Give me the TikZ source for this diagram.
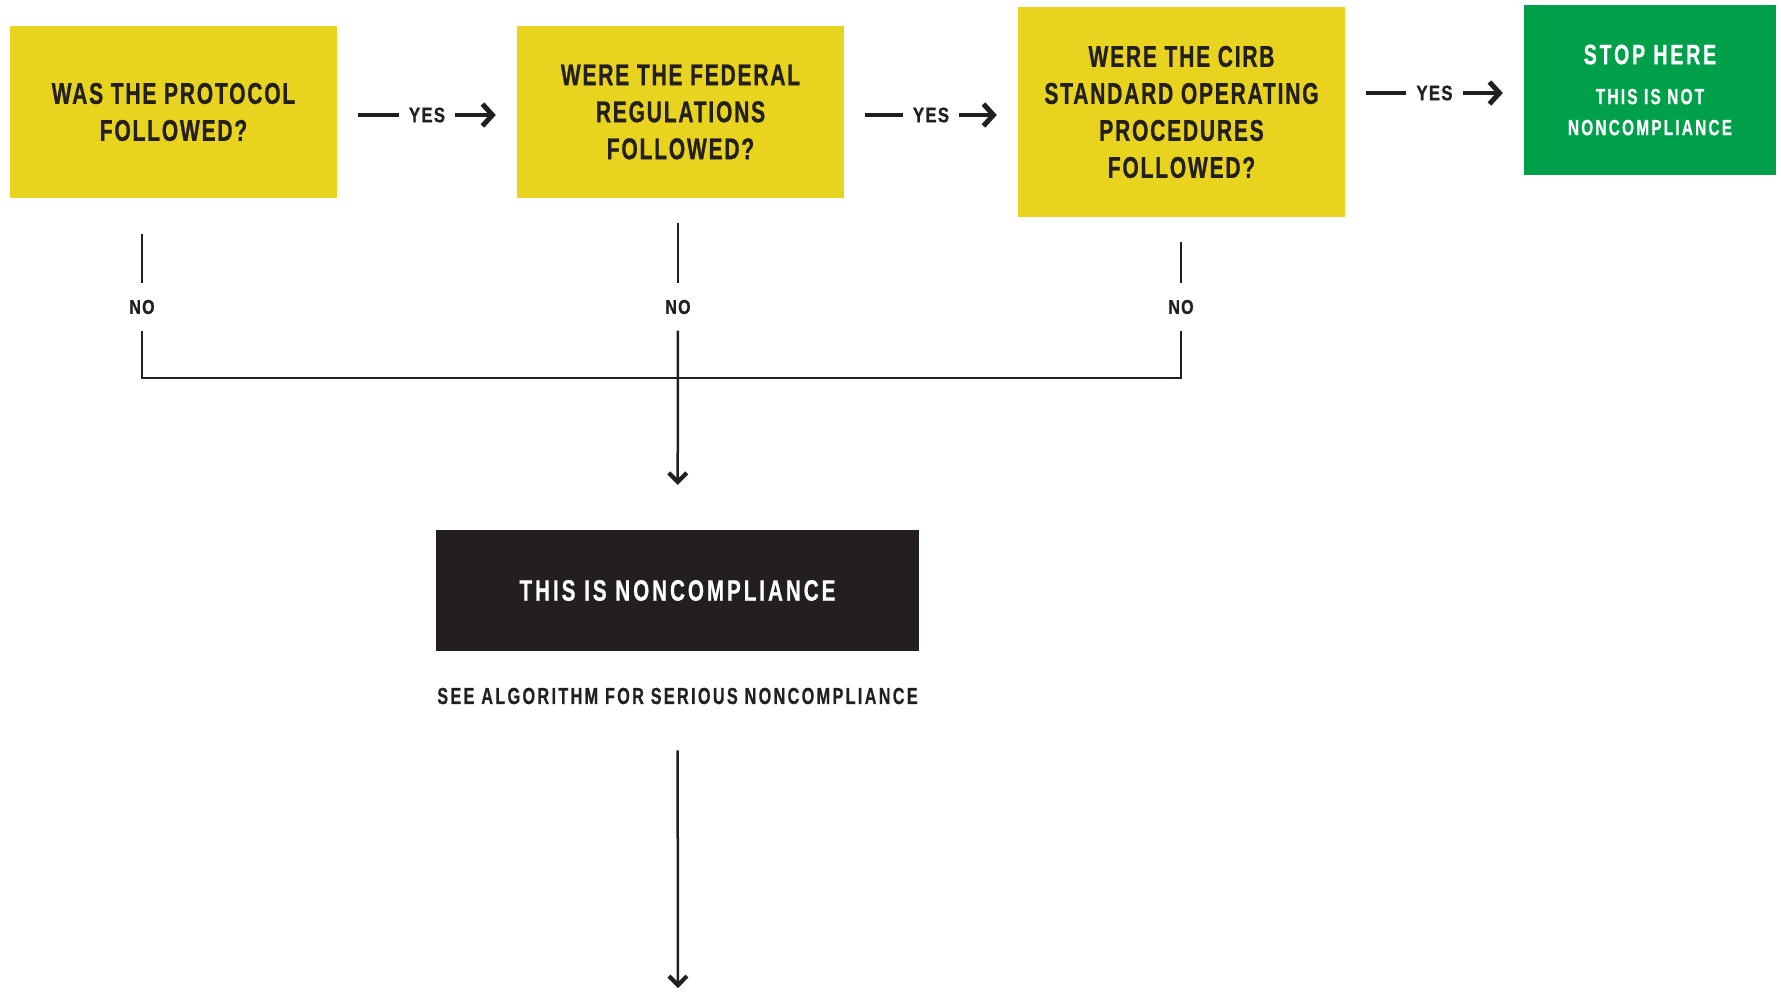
\documentclass[tikz,border=0pt]{standalone}
\usepackage{fontspec}
\usetikzlibrary{arrows.meta}
\newfontfamily\condbox[FakeStretch=0.7,LetterSpace=6,FakeBold=0.8]{Liberation Sans}
\newfontfamily\condwide[FakeStretch=0.7,LetterSpace=10,FakeBold=0.6]{Liberation Sans}
\newfontfamily\condlbl[FakeStretch=0.8,LetterSpace=6,FakeBold=0.8]{Liberation Sans}
\definecolor{boxyellow}{HTML}{E8D31E}
\definecolor{boxgreen}{HTML}{00A04B}
\definecolor{boxblack}{HTML}{231F20}
\definecolor{ink}{HTML}{231F20}
\tikzset{
  qbox/.style={fill=boxyellow, text=ink, minimum width=327pt, inner sep=0pt, align=center,
    font=\condbox\bfseries\fontsize{30}{37}\selectfont},
  lbl/.style={text=ink, inner sep=0pt, font=\condlbl\bfseries\fontsize{20}{24}\selectfont},
  nolbl/.style={lbl, minimum height=47pt},
  yeslbl/.style={lbl, fill=white, inner xsep=10pt, font=\condlbl\bfseries\fontsize{21}{24}\selectfont},
  conn/.style={draw=ink, line width=2.5pt},
  yesarr/.style={draw=ink, line width=3.5pt, shorten <=21pt, shorten >=21pt,
    -{Straight Barb[length=10pt,width=22pt,line width=5pt]}},
  downarr/.style={draw=ink, line width=2.5pt, -{Straight Barb[length=9pt,width=18pt,line width=4.2pt]}}
}
\begin{document}
\begin{tikzpicture}[x=1pt,y=-1pt]
\useasboundingbox (0,0) rectangle (1781,991);
% question boxes
\node[qbox, minimum height=172pt] (b1) at (173.5,112) {WAS THE PROTOCOL\\FOLLOWED?};
\node[qbox, minimum height=172pt] (b2) at (680.5,112) {WERE THE FEDERAL\\REGULATIONS\\FOLLOWED?};
\node[qbox, minimum height=210pt] (b3) at (1181.5,112) {WERE THE CIRB\\STANDARD OPERATING\\PROCEDURES\\FOLLOWED?};
\node[fill=boxgreen, text=white, minimum width=252pt, minimum height=170pt, inner sep=0pt, align=center,
  font=\condwide\bfseries\fontsize{22}{31}\selectfont] (b4) at (1650,90)
  {\fontsize{28}{31}\selectfont STOP HERE\\[9pt]
   \fontsize{22}{31}\selectfont THIS IS NOT\\
   \fontsize{22}{31}\selectfont NONCOMPLIANCE};
% yes connectors
\draw[yesarr] ([yshift=-3pt]b1.east) -- node[yeslbl]{YES} ([yshift=-3pt]b2.west);
\draw[yesarr] ([yshift=-3pt]b2.east) -- node[yeslbl]{YES} ([yshift=-3pt]b3.west);
\draw[yesarr] ([yshift=-3pt]b3.east |- b4.west) -- node[yeslbl]{YES} ([yshift=-3pt]b4.west);
% no labels
\node[nolbl] (no1) at (142,307) {NO};
\node[nolbl] (no2) at (678,307) {NO};
\node[nolbl] (no3) at (1181,307) {NO};
\coordinate (j) at (678,378);
\draw[conn, shorten <=36pt] (no1 |- b1.south) -- (no1);
\draw[conn, shorten <=25pt] (no2 |- b2.south) -- (no2);
\draw[conn, shorten <=25pt] (no3 |- b3.south) -- (no3);
\draw[conn] (no1) |- (j);
\draw[conn] (no3) |- (j);
% result
\node[fill=boxblack, text=white, minimum width=483pt, minimum height=121pt, inner sep=0pt,
  font=\condwide\bfseries\fontsize{29.5}{32}\selectfont] (nc) at (677.5,590.5) {THIS IS NONCOMPLIANCE};
\draw[downarr, shorten >=45pt] (no2) -- (nc);
\node[lbl, font=\condwide\bfseries\fontsize{23.2}{26}\selectfont] (cap) at (677.5,696) {SEE ALGORITHM FOR SERIOUS NONCOMPLIANCE};
\coordinate (endc) at (678,988);
\draw[downarr, shorten <=46pt] (cap) -- (endc);
\end{tikzpicture}
\end{document}
